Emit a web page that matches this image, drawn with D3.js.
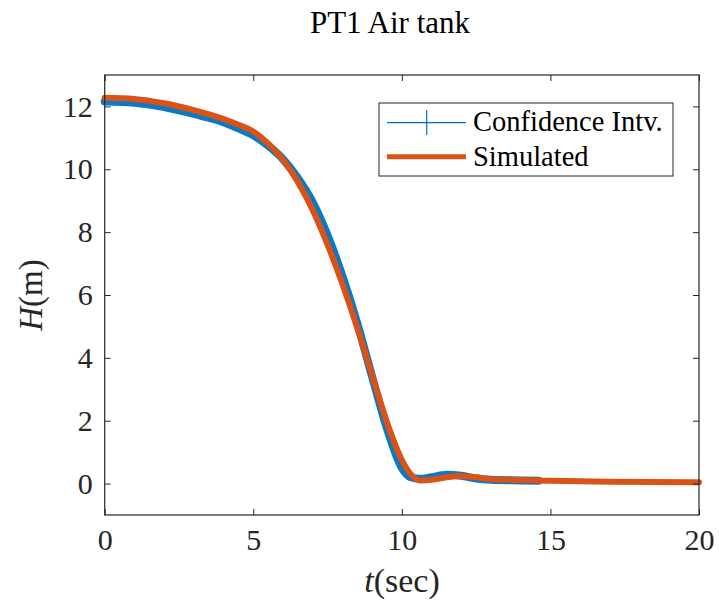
<!DOCTYPE html>
<html>
<head>
<meta charset="utf-8">
<script src="https://cdn.jsdelivr.net/npm/d3@7"></script>
<style>
  body { margin: 0; background: #fff; }
</style>
</head>
<body>
<div id="my_dataviz"></div>
<script>

// measured series (time in sec, head in m)
var tSim = [0, 1, 2, 3, 4, 4.5, 5, 5.5, 6, 6.5, 7, 7.5, 8, 8.5, 9, 9.5, 10, 10.3, 10.6, 11, 11.5, 12, 12.5, 13, 14, 15, 17, 20];
var hSim = [12.28, 12.24, 12.1, 11.88, 11.6, 11.42, 11.2, 10.82, 10.3, 9.6, 8.7, 7.6, 6.35, 4.95, 3.45, 1.95, 0.75, 0.3, 0.1, 0.12, 0.2, 0.24, 0.2, 0.14, 0.11, 0.09, 0.06, 0.04];

var tConf = [0, 1, 2, 3, 4, 4.5, 5, 5.5, 6, 6.5, 7, 7.5, 8, 8.5, 9, 9.5, 10, 10.3, 10.6, 11, 11.5, 12, 12.5, 13, 14, 14.6];
var hConf = [12.16, 12.12, 11.98, 11.76, 11.5, 11.3, 11.08, 10.75, 10.32, 9.72, 8.95, 7.9, 6.6, 5.1, 3.4, 1.75, 0.5, 0.2, 0.15, 0.2, 0.28, 0.25, 0.16, 0.12, 0.1, 0.09];

var xTicks = [0, 5, 10, 15, 20];
var yTicks = [0, 2, 4, 6, 8, 10, 12];
var legendNames = ["Confidence Intv.", "Simulated"];

var width  = 719;
var height = 607;
var margin = {left: 104.7, right: 20, top: 75, bottom: 92};
var serif = "'Liberation Serif', 'Times New Roman', serif";

var svg = d3.select("#my_dataviz")
  .append("svg")
    .attr("width", width)
    .attr("height", height)
    .style("font-family", serif);

var x = d3.scaleLinear().domain([0, 20]).range([margin.left, width - margin.right]);
var y = d3.scaleLinear().domain([-1, 13]).range([height - margin.bottom, margin.top]);

var axisColor = "#262626";

// curves
var line = d3.line()
  .x(function(d){ return x(d[0]) })
  .y(function(d){ return y(d[1]) })
  .curve(d3.curveMonotoneX);

svg.append("path")
  .datum(d3.zip(tConf, hConf))
  .attr("d", line)
  .style("fill", "none")
  .style("stroke", "#0072BD")
  .style("stroke-width", 8)
  .style("stroke-linecap", "round")
  .style("opacity", 0.95);

svg.append("path")
  .datum(d3.zip(tSim, hSim))
  .attr("d", line)
  .style("fill", "none")
  .style("stroke", "#D95319")
  .style("stroke-width", 6)
  .style("stroke-linecap", "round");

// axes box with inward ticks on all sides
svg.append("g")
  .attr("transform", "translate(0," + y(-1) + ")")
  .call(d3.axisBottom(x).tickValues(xTicks).tickSizeInner(-6).tickSizeOuter(0).tickPadding(14))
  .call(function(g){ g.select(".domain").remove() })
  .call(function(g){ g.selectAll("line").attr("stroke", axisColor) })
  .call(function(g){ g.attr("font-family", serif).selectAll("text").attr("font-size", 30).attr("fill", "#262626") });

svg.append("g")
  .attr("transform", "translate(0," + y(13) + ")")
  .call(d3.axisTop(x).tickValues(xTicks).tickSizeInner(-6).tickSizeOuter(0).tickFormat(""))
  .call(function(g){ g.select(".domain").remove() })
  .call(function(g){ g.selectAll("line").attr("stroke", axisColor) });

svg.append("g")
  .attr("transform", "translate(" + x(0) + ",0)")
  .call(d3.axisLeft(y).tickValues(yTicks).tickSizeInner(-6).tickSizeOuter(0).tickPadding(12))
  .call(function(g){ g.select(".domain").remove() })
  .call(function(g){ g.selectAll("line").attr("stroke", axisColor) })
  .call(function(g){ g.attr("font-family", serif).selectAll("text").attr("font-size", 30).attr("fill", "#262626") });

svg.append("g")
  .attr("transform", "translate(" + x(20) + ",0)")
  .call(d3.axisRight(y).tickValues(yTicks).tickSizeInner(-6).tickSizeOuter(0).tickFormat(""))
  .call(function(g){ g.select(".domain").remove() })
  .call(function(g){ g.selectAll("line").attr("stroke", axisColor) });

svg.append("rect")
  .attr("x", x(0)).attr("y", y(13))
  .attr("width", x(20) - x(0)).attr("height", y(-1) - y(13))
  .style("fill", "none").style("stroke", axisColor).style("stroke-width", 1.2);

// title
svg.append("text")
  .attr("x", 390)
  .attr("y", 33)
  .attr("text-anchor", "middle")
  .attr("font-size", 31)
  .attr("fill", "#000")
  .text("PT1 Air tank");

// x label
var xl = svg.append("text")
  .attr("x", 402)
  .attr("y", 592)
  .attr("text-anchor", "middle")
  .attr("font-size", 34)
  .attr("fill", "#262626");
xl.append("tspan").attr("font-style", "italic").text("t");
xl.append("tspan").text("(sec)");

// y label
var yl = svg.append("text")
  .attr("transform", "translate(42,295) rotate(-90)")
  .attr("text-anchor", "middle")
  .attr("font-size", 33)
  .attr("fill", "#262626");
yl.append("tspan").attr("font-style", "italic").text("H");
yl.append("tspan").text("(m)");

// legend
var leg = svg.append("g");
leg.append("rect")
  .attr("x", 379).attr("y", 103)
  .attr("width", 294).attr("height", 73)
  .style("fill", "#fff").style("stroke", axisColor).style("stroke-width", 1);

leg.append("line")
  .attr("x1", 387).attr("x2", 466).attr("y1", 122.7).attr("y2", 122.7)
  .style("stroke", "#0072BD").style("stroke-width", 1.2);
leg.append("line")
  .attr("x1", 426.7).attr("x2", 426.7).attr("y1", 110).attr("y2", 135)
  .style("stroke", "#0072BD").style("stroke-width", 1.2);
leg.append("line")
  .attr("x1", 387).attr("x2", 466).attr("y1", 156.7).attr("y2", 156.7)
  .style("stroke", "#D95319").style("stroke-width", 5);

leg.selectAll("mylabels")
  .data(legendNames)
  .enter()
  .append("text")
    .attr("x", 473)
    .attr("y", function(d, i){ return 131 + i*35 })
    .attr("font-size", 28.5)
    .attr("fill", "#000")
    .text(function(d){ return d });

</script>
</body>
</html>
